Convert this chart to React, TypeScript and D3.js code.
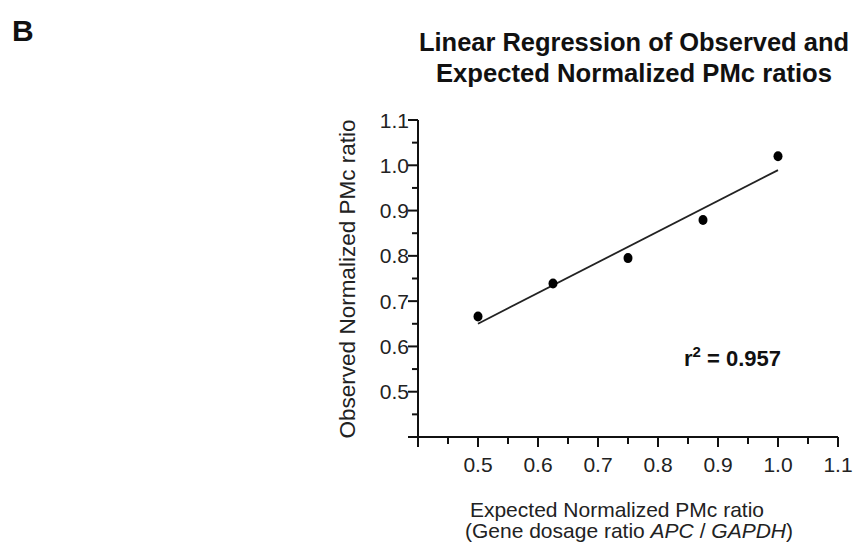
import React from "react";
import * as d3 from "d3";

const expected = [0.5, 0.625, 0.75, 0.875, 1.0];
const observed = [0.666, 0.739, 0.795, 0.879, 1.02];
const majorTicks = [0.4, 0.5, 0.6, 0.7, 0.8, 0.9, 1.0, 1.1];
const minorTicks = [0.45, 0.55, 0.65, 0.75, 0.85, 0.95, 1.05];
const tickLabels = ["", "0.5", "0.6", "0.7", "0.8", "0.9", "1.0", "1.1"];
const titleLines = ["Linear Regression of Observed and", "Expected Normalized PMc ratios"];
const rSquaredText = "0.957";

const W = 857;
const H = 544;
const FONT = "'Liberation Sans', Arial, Helvetica, sans-serif";

export default function App() {
  const x = d3.scaleLinear().domain([0.4, 1.1]).range([418, 838]);
  const y = d3.scaleLinear().domain([0.4, 1.1]).range([437, 120]);

  const mx = d3.mean(expected) as number;
  const my = d3.mean(observed) as number;
  const sxy = d3.sum(expected.map((v, i) => (v - mx) * (observed[i] - my)));
  const sxx = d3.sum(expected.map((v) => (v - mx) * (v - mx)));
  const slope = sxy / sxx;
  const intercept = my - slope * mx;
  const x0 = d3.min(expected) as number;
  const x1 = d3.max(expected) as number;
  const line = d3.line<number>().x((d) => x(d)).y((d) => y(intercept + slope * d));

  const axisColor = "#111";
  return (
    <svg
      width={W}
      height={H}
      style={{ position: "absolute", left: 0, top: 0, background: "#fff" }}
      fontFamily={FONT}
    >
      <text x={12} y={41} fontSize={30} fontWeight="bold" fill="#111">B</text>
      {titleLines.map((t, i) => (
        <text
          key={t}
          x={634}
          y={51 + i * 31}
          textAnchor="middle"
          fontSize={25}
          fontWeight="bold"
          fill="#111"
          textLength={i === 0 ? 430 : 396}
          lengthAdjust="spacingAndGlyphs"
        >
          {t}
        </text>
      ))}

      {/* Y axis */}
      <line x1={x(0.4)} x2={x(0.4)} y1={y(0.4)} y2={y(1.1)} stroke={axisColor} strokeWidth={2} />
      {majorTicks.map((t, i) => (
        <g key={"ym" + t}>
          <line x1={x(0.4) - 10} x2={x(0.4)} y1={y(t)} y2={y(t)} stroke={axisColor} strokeWidth={2} />
          {tickLabels[i] && (
            <text x={x(0.4) - 9} y={y(t)} dy="0.36em" textAnchor="end" fontSize={21} fill="#222">
              {tickLabels[i]}
            </text>
          )}
        </g>
      ))}
      {minorTicks.map((t) => (
        <line key={"yn" + t} x1={x(0.4) - 6} x2={x(0.4)} y1={y(t)} y2={y(t)} stroke={axisColor} strokeWidth={2} />
      ))}

      {/* X axis */}
      <line x1={x(0.4)} x2={x(1.1)} y1={y(0.4)} y2={y(0.4)} stroke={axisColor} strokeWidth={2} />
      {majorTicks.map((t, i) => (
        <g key={"xm" + t}>
          <line x1={x(t)} x2={x(t)} y1={y(0.4)} y2={y(0.4) + 10} stroke={axisColor} strokeWidth={2} />
          {tickLabels[i] && (
            <text x={x(t)} y={472} textAnchor="middle" fontSize={21} fill="#222">
              {tickLabels[i]}
            </text>
          )}
        </g>
      ))}
      {minorTicks.map((t) => (
        <line key={"xn" + t} x1={x(t)} x2={x(t)} y1={y(0.4)} y2={y(0.4) + 7} stroke={axisColor} strokeWidth={2} />
      ))}

      {/* Axis titles */}
      <text transform="translate(355,279) rotate(-90)" textAnchor="middle" fontSize={22.5} fill="#222">
        Observed Normalized PMc ratio
      </text>
      <text x={617} y={517} textAnchor="middle" fontSize={21} fill="#222">
        Expected Normalized PMc ratio
      </text>
      <text x={629} y={538} textAnchor="middle" fontSize={21} fill="#222">
        (Gene dosage ratio <tspan fontStyle="italic">APC</tspan> / <tspan fontStyle="italic">GAPDH</tspan>)
      </text>

      {/* Regression line */}
      <path d={line([x0, x1]) || ""} fill="none" stroke="#222" strokeWidth={1.8} />

      {/* Points */}
      {expected.map((v, i) => (
        <ellipse key={"p" + i} cx={x(v)} cy={y(observed[i])} rx={4.5} ry={5} fill="#000" />
      ))}

      {/* r squared */}
      <text x={684} y={366} fontSize={22} fontWeight="bold" fill="#111">
        r<tspan dy={-9} fontSize={15}>2</tspan>
        <tspan dy={9}> = {rSquaredText}</tspan>
      </text>
    </svg>
  );
}
